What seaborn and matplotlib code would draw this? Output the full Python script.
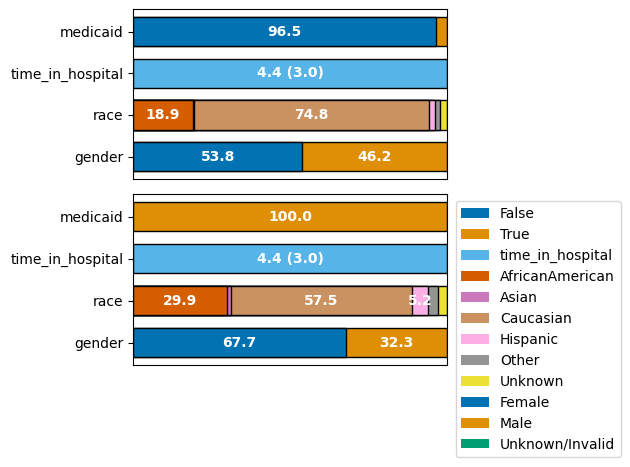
import matplotlib
matplotlib.use("Agg")
import matplotlib.pyplot as plt
from matplotlib.patches import Patch
import seaborn as sns
import pandas as pd

categories = ["medicaid", "time_in_hospital", "race", "gender"]

medicaid_labels = ["False", "True"]
race_labels = ["AfricanAmerican", "Asian", "Caucasian", "Hispanic", "Other", "Unknown"]
gender_labels = ["Female", "Male", "Unknown/Invalid"]

# panel 1 values (percent)
top_medicaid = [96.5, 3.5]
top_race = [18.9, 0.5, 74.8, 1.9, 1.5, 2.4]
top_gender = [53.8, 46.2, 0.0]
top_time_text = "4.4 (3.0)"

# panel 2 values (percent)
bot_medicaid = [0.0, 100.0]
bot_race = [29.9, 1.3, 57.5, 5.2, 3.2, 2.9]
bot_gender = [67.7, 32.3, 0.0]
bot_time_text = "4.4 (3.0)"

pal = sns.color_palette("colorblind")
colors = {
    "False": pal[0], "True": pal[1], "time_in_hospital": pal[9],
    "AfricanAmerican": pal[3], "Asian": pal[4], "Caucasian": pal[5],
    "Hispanic": pal[6], "Other": pal[7], "Unknown": pal[8],
    "Female": pal[0], "Male": pal[1], "Unknown/Invalid": pal[2],
}


def build(medicaid, race, gender, time_text):
    rows = []
    for cat, labels, vals in [("medicaid", medicaid_labels, medicaid),
                              ("race", race_labels, race),
                              ("gender", gender_labels, gender)]:
        start = 0.0
        for lab, v in zip(labels, vals):
            rows.append(dict(cat=cat, label=lab, start=start, end=start + v,
                             value=v, text=f"{v:.1f}"))
            start += v
    rows.append(dict(cat="time_in_hospital", label="time_in_hospital",
                     start=0.0, end=100.0, value=100.0, text=time_text))
    return pd.DataFrame(rows)


def draw(ax, df):
    df = df[df["value"] > 0].sort_values("end", ascending=False)
    for _, r in df.iterrows():
        sns.barplot(x=[r["end"]], y=[r["cat"]], order=categories, orient="h",
                    color=colors[r["label"]], edgecolor="black", linewidth=1,
                    width=0.7, errorbar=None, ax=ax, saturation=1)
    for _, r in df.iterrows():
        if r["value"] > 5:
            ax.text((r["start"] + r["end"]) / 2, categories.index(r["cat"]),
                    r["text"], ha="center", va="center", color="white",
                    fontweight="bold", fontsize=10)
    ax.set_xlim(0, 100)
    ax.set_ylim(3.535, -0.535)
    ax.set_xticks([])
    ax.set_xlabel("")
    ax.set_ylabel("")


plt.rcParams["font.family"] = ["DejaVu Sans"]
fig = plt.figure(figsize=(6.3, 4.67), dpi=100)
ax1 = fig.add_axes([0.2115, 0.6167, 0.4984, 0.3636])
ax2 = fig.add_axes([0.2115, 0.2184, 0.4984, 0.3656])

draw(ax1, build(top_medicaid, top_race, top_gender, top_time_text))
draw(ax2, build(bot_medicaid, bot_race, bot_gender, bot_time_text))

legend_labels = ["False", "True", "time_in_hospital", "AfricanAmerican", "Asian",
                 "Caucasian", "Hispanic", "Other", "Unknown", "Female", "Male",
                 "Unknown/Invalid"]
handles = [Patch(facecolor=colors[l], label=l) for l in legend_labels]
fig.legend(handles=handles, loc="upper left", bbox_to_anchor=(0.712, 0.5836),
           fontsize=10, frameon=True)

fig.savefig("out.png", dpi=100)
